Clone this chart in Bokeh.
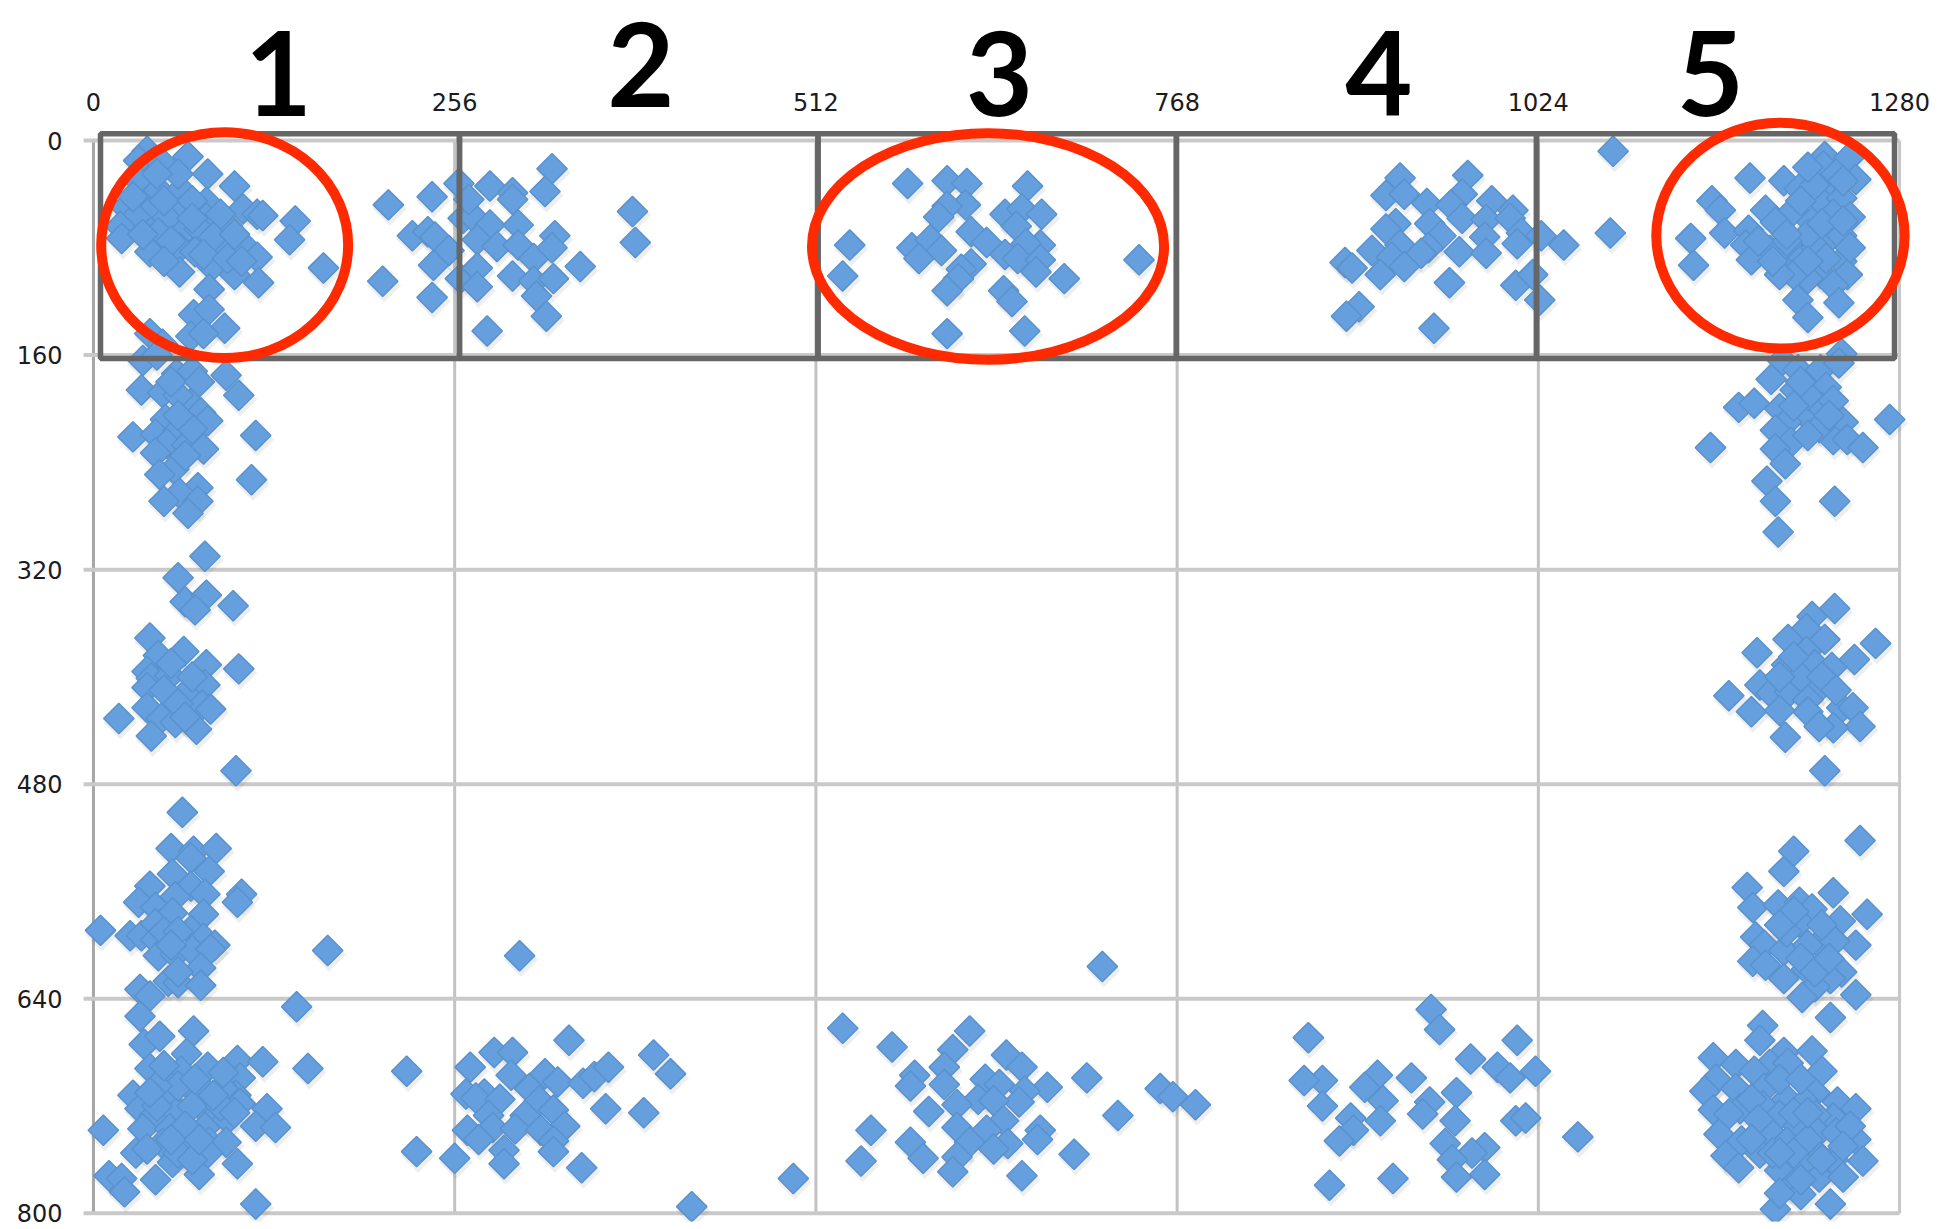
import math
from bokeh.plotting import figure
from bokeh.embed import file_html
from bokeh.resources import INLINE
from bokeh.core.properties import value
from bokeh.models import Range1d, FixedTicker, ColumnDataSource
from bokeh.transform import dodge

x_ticks = [0, 256, 512, 768, 1024, 1280]
y_ticks = [0, 160, 320, 480, 640, 800]
region_labels = ["1", "2", "3", "4", "5"]

a_x = [38,32,48,67,81,33,46,62,100,80,23,40,62,30,52,80,106,116,120,95,19,20,46,64,75,143,139,61,90,108,40,72,116,61,84,100,117,163,82,71,82,93,69,78,40,49]
a_y = [8,15,16,12,25,31,37,37,34,46,50,53,53,57,58,58,51,55,56,64,64,73,69,68,66,60,74,80,78,80,83,83,87,98,94,100,106,95,111,130,126,140,146,144,144,152]

a2_x = [50,70,90,55,70,85,35,78,100,95,50,28,105,60,45]
a2_y = [45,45,55,75,58,72,70,85,70,88,90,42,90,25,25]

b_x = [209,240,259,226,237,242,252,241,205,240,260,262,281,297,297,325,320,269,281,301,272,286,301,312,327,325,272,272,297,312,326,314,321,279,345,382,384,266]
b_y = [48,42,32,71,68,72,82,93,105,117,103,58,34,39,44,21,38,57,63,63,74,79,78,88,71,80,95,109,101,105,103,116,131,142,94,53,76,44]

c_x = [577,605,619,618,605,599,662,646,658,672,654,622,633,536,531,580,593,585,601,671,661,646,655,671,668,688,741,622,615,613,605,645,651,605,660]
c_y = [32,30,32,48,49,57,34,55,51,55,64,68,76,78,101,80,74,88,82,78,77,85,88,89,98,103,89,92,96,103,112,112,120,144,142]

d_x = [926,974,916,929,945,970,962,991,1006,923,947,970,987,1004,916,955,1012,926,986,1026,1042,906,946,920,968,987,941,1009,887,892,912,929,961,1008,1020,1025,897,888,950,1077,1075]
d_y = [28,26,41,40,47,40,48,45,52,62,62,58,59,58,66,71,69,78,72,71,78,82,80,87,83,84,84,77,91,95,100,94,106,108,100,119,124,131,140,8,69]

e_x = [1174,1147,1153,1156,1132,1134,1198,1209,1227,1226,1244,1249,1231,1185,1205,1225,1239,1233,1245,1192,1173,1218,1171,1188,1230,1239,1210,1175,1210,1197,1239,1224,1243,1215,1205,1233,1208,1237,1215,1192,1221]
e_y = [28,45,52,69,73,93,30,36,12,19,13,29,33,52,52,46,43,55,57,61,67,61,78,82,73,71,81,89,89,95,90,99,100,103,100,108,119,121,132,85,80]

e2_x = [1215,1200,1225,1210,1220,1240,1228,1200,1180,1195,1215,1235,1240,1190,1245,1215]
e2_y = [70,75,62,45,33,60,88,70,75,100,90,25,30,90,80,20]

f_x = [35,45,59,70,94,103,34,49,69,51,76,81,28,44,60,52,66,78,115,44,57,47,112,74,61,50,74,67,79,60,65,80,72,99,40,64,46,80,103,38,41,54,79,38,65,77,83,38,48,58,18,73,41,101]
f_y = [164,160,174,172,175,190,186,188,196,208,203,209,221,219,216,226,227,230,220,233,245,249,253,259,263,269,269,278,310,326,344,339,350,347,371,381,384,391,394,396,401,399,406,408,413,421,424,423,431,434,431,439,444,470]

f2_x = [60,70,60,55,75,65,50,60,55,70,65]
f2_y = [190,215,205,180,180,235,410,420,390,400,430]

g_x = [1239,1197,1208,1224,1237,1189,1206,1228,1166,1177,1195,1213,1225,1233,1200,1240,1192,1273,1146,1203,1192,1233,1243,1254,1223,1199,1186,1192,1234,1194,1234,1218,1214,1201,1227,1214,1179,1263,1248,1200,1220,1232,1181,1189,1202,1225,1159,1215,1175,1215,1239,1247,1252,1233,1223,1199,1227]
g_y = [159,164,171,171,166,178,186,184,199,196,200,204,199,194,210,210,216,208,229,225,230,223,223,229,214,241,254,269,269,292,349,355,364,372,372,381,382,375,387,391,391,393,406,412,411,406,414,417,426,426,423,423,437,438,437,445,470]

g2_x = [1215,1205,1215,1230,1210,1210,1225,1205,1195,1235,1195]
g2_y = [190,198,220,205,180,400,400,385,400,410,425]

h_x = [63,55,71,87,69,56,82,40,69,58,79,32,44,56,78,105,102,5,26,34,44,44,69,78,86,46,58,70,83,76,166,302,33,40,53,60,76,144,33,36,47,71,66,102,120,152,40,62,81,104,50,222,28,53,70,81,101,104,92,33,43,59,78,88,123,115,129,7,35,54,79,95,65,49,82,94,30,38,56,81,102,75,44,11,20,22,115]
h_y = [501,528,530,528,535,547,545,556,556,564,562,568,572,576,577,562,568,589,593,593,584,596,589,595,600,608,607,604,603,617,604,608,633,638,627,628,630,646,653,674,668,664,681,686,687,692,692,694,691,699,701,694,712,716,707,711,712,718,707,722,727,725,722,726,722,735,736,738,737,737,736,730,745,748,747,747,755,752,762,755,763,771,775,772,774,784,793]

h2_x = [60,45,70,90,65,45,60,70,55,100,85,40,72,75,50,92,50,60,55,60]
h2_y = [705,705,720,720,735,720,755,760,745,725,712,710,700,745,690,695,590,590,600,620]

i_x = [229,256,267,284,297,337,296,320,329,347,355,365,264,277,271,288,309,316,363,326,280,306,334,265,283,299,317,273,326,326,291,291,346,397,409,390,496,424]
i_y = [754,759,691,680,680,671,697,696,702,703,698,691,711,711,714,715,707,716,722,723,727,727,735,738,736,737,738,745,746,754,753,763,766,682,696,725,774,795]

j_x = [715,531,566,621,609,603,582,579,603,647,658,632,642,676,704,660,656,627,612,638,592,726,756,765,781,645,633,612,551,579,621,648,671,669,638,695,588,544,612,609,658]
j_y = [616,662,676,664,678,691,697,705,704,682,691,700,704,706,699,709,717,715,719,716,724,727,707,713,719,731,738,736,738,747,747,748,738,745,752,756,759,761,758,769,772]

k_x = [948,954,861,1009,976,995,1004,1022,871,858,910,901,934,914,871,966,947,942,965,912,891,893,883,1008,1015,1052,958,986,977,963,986,966,921,876]
k_y = [648,663,669,671,685,691,699,694,701,701,697,706,699,716,720,710,717,726,731,731,729,738,746,731,729,743,748,751,755,760,771,773,774,779]

m_x = [1252,1205,1198,1172,1233,1176,1194,1209,1218,1257,1238,1209,1178,1249,1223,1184,1198,1234,1176,1214,1239,1198,1231,1220,1249,1211,1231]
m_y = [522,530,545,557,561,572,570,568,573,577,582,583,594,600,599,600,604,597,612,618,620,625,625,631,637,639,654]

m2_x = [1225,1200,1215,1210,1205,1220,1230,1185,1195]
m2_y = [585,590,600,610,575,620,610,615,585]

n_x = [1183,1181,1148,1164,1198,1218,1188,1177,1201,1225,1150,1142,1164,1184,1200,1220,1148,1167,1183,1213,1236,1159,1249,1233,1221,1195,1152,1168,1187,1208,1222,1249,1200,1181,1157,1166,1233,1221,1254,1211,1195,1223,1240,1204,1210,1231,1192]
n_y = [660,671,684,689,680,679,689,694,688,694,700,709,707,707,715,710,723,722,720,717,717,726,722,729,727,727,741,746,738,735,740,745,747,755,757,766,760,755,761,763,768,773,773,779,786,793,797]

n2_x = [1195,1210,1175,1205,1190,1215,1235,1205,1180,1225,1245,1195,1240,1210,1195,1215,1175]
n2_y = [700,700,715,725,755,745,740,755,730,760,735,755,750,775,785,725,745]

box_left = [5, 259.4, 513.5, 767.5, 1022.7]
box_right = [259.4, 513.5, 767.5, 1022.7, 1276.4]
box_top = [-5, -5, -5, -5, -5]
box_bottom = [162.6, 162.6, 162.6, 162.6, 162.6]

circle_x = [93, 634, 1195.6]
circle_y = [78, 79, 71]
circle_w = [175, 249.5, 176]
circle_h = [168.5, 169, 168.5]

label_x = [131, 388, 642, 911, 1146]
label_y = [-50, -57, -50, -50, -50]

all_x = a_x + a2_x + b_x + c_x + d_x + e_x + e2_x + f_x + f2_x + g_x + g2_x + h_x + h2_x + i_x + j_x + k_x + m_x + m2_x + n_x + n2_x
all_y = a_y + a2_y + b_y + c_y + d_y + e_y + e2_y + f_y + f2_y + g_y + g2_y + h_y + h2_y + i_y + j_y + k_y + m_y + m2_y + n_y + n2_y

p = figure(
    frame_width=1873, frame_height=1221,
    min_border_left=66, min_border_right=0, min_border_top=0, min_border_bottom=8,
    x_range=Range1d(-19.1, 1308.3), y_range=Range1d(806.1, -104.4),
    x_axis_location="above", y_axis_location="left",
    output_backend="svg", toolbar_location=None, tools="",
    background_fill_color="white", border_fill_color="white",
)
p.outline_line_color = None
p.grid.visible = False
p.xaxis[0].fixed_location = -16

for ax, ticks in ((p.xaxis[0], x_ticks), (p.yaxis[0], y_ticks)):
    ax.ticker = FixedTicker(ticks=ticks)
    ax.axis_line_color = None
    ax.major_tick_line_color = None
    ax.minor_tick_line_color = None
    ax.major_label_text_font = "DejaVu Sans"
    ax.major_label_text_font_size = "24px"
    ax.major_label_text_color = "#1c1c1c"
p.xaxis[0].major_label_standoff = 2
p.yaxis[0].major_label_standoff = -2

# Grid lines stop at the chart's extents, with a short stub left of x = 0
p.segment(x0=x_ticks, x1=x_ticks, y0=[0] * 6, y1=[800] * 6,
          line_color=["#a6a6a6", "#c2c2c2", "#c2c2c2", "#c2c2c2", "#c2c2c2", "#c8c8c8"], line_width=3)
p.segment(x0=[-7] * 6, x1=[1280] * 6, y0=y_ticks, y1=y_ticks, line_color="#c9c9c9", line_width=4)

source = ColumnDataSource(dict(x=all_x, y=all_y))
p.scatter(x=dodge("x", 1.0), y=dodge("y", 3.0), source=source, marker="square",
          angle=math.pi / 4, size=24, fill_color="#555555", fill_alpha=0.10, line_color=None)
p.scatter(x="x", y="y", source=source, marker="square", angle=math.pi / 4, size=21.5,
          fill_color="#659fdd", line_color="#5a92cd", line_width=1.5)

p.quad(left=box_left, right=box_right, top=box_top, bottom=box_bottom,
       fill_color=None, line_color="#666666", line_width=5.5)
p.ellipse(x=circle_x, y=circle_y, width=circle_w, height=circle_h,
          fill_color=None, line_color="#ff2a00", line_width=10)

p.text(x=label_x, y=label_y, text=region_labels, text_font=value("Lato"), text_font_size="116px",
       text_font_style="bold", text_color="black", text_align="center", text_baseline="middle")

open("out.html", "w").write(file_html(p, INLINE))
